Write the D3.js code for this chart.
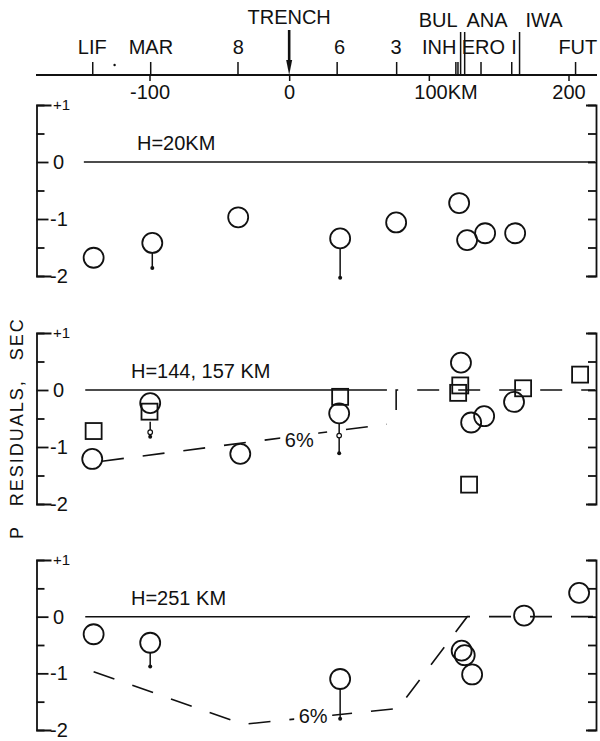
<!DOCTYPE html>
<html>
<head>
<meta charset="utf-8">
<script src="https://cdn.jsdelivr.net/npm/d3@7"></script>
<style>
  body { margin: 0; background: #fff; }
  svg { font-family: 'Liberation Sans', Arial, sans-serif; }
  .ink { stroke: #111; fill: none; }
</style>
</head>
<body>
<div id="chart"></div>
<script>
'use strict';

// distance axis (km)
const kmTicks = [-100, 0, 100, 200];
const kmTickLabels = ['-100', '0', '100KM', '200'];

// station marks on the top axis
const stationTicks = [-141, -99.5, -37, 34, 76.6, 119, 120.5, 137, 159, 204.7];
const boundaryLines = [122.4, 125.3, 164.6];
const stationNames = ['LIF', 'MAR', '8', '6', '3', 'INH', 'ERO', 'I', 'FUT'];
const stationNameKm = [-141, -99, -36.5, 36, 76.6, 107.4, 139, 161, 206.7];
const regionNames = ['BUL', 'ANA', 'IWA'];
const regionNameKm = [106.7, 141.7, 182.5];
const trenchKm = 0;

// residual ticks (sec)
const residualTicks = [-2, -1.5, -1, -0.5, 0, 0.5, 1];
const residualLabels = ['-2', '-1', '0', '+1'];
const residualLabelValues = [-2, -1, 0, 1];

// H = 20 km
const h20Circles = [[-140, -1.68], [-98, -1.42], [-36.5, -0.97], [36.5, -1.34], [76.6, -1.06],
  [121.7, -0.72], [127.4, -1.37], [140.3, -1.25], [161.8, -1.25]];
const h20Stems = [[-98, -1.42, -1.86], [36.5, -1.34, -2.03]];

// H = 144, 157 km
const h150Circles = [[-141, -1.21], [-99.5, -0.23], [-35, -1.12], [35.8, -0.41], [123, 0.48],
  [130.3, -0.57], [139.6, -0.46], [161, -0.21]];
const h150Squares = [[-140, -0.72], [-100, -0.38], [36.5, -0.12], [122.5, 0.08], [121, -0.05],
  [128.8, -1.66], [167.5, 0.03], [208.3, 0.27]];
const h150Stems = [[-99.5, -0.38, -0.82], [35.8, -0.41, -1.11]];
const h150Rings = [[-99.5, -0.74], [35.8, -0.8]];
const h150Zero = [[-146, 0], [70, 0]];
const h150SixLow = [[-134, -1.25], [70, -0.6]];
const h150SixHigh = [[76.6, -0.35], [76.6, 0], [219, 0]];
const h150SixLabel = [7.2, -0.88];

// H = 251 km
const h251Circles = [[-140, -0.31], [-99.5, -0.46], [36.5, -1.1], [123.5, -0.6], [125.7, -0.68],
  [131, -1.02], [168.2, 0.02], [207.6, 0.42]];
const h251Stems = [[-99.5, -0.46, -0.88], [36.5, -1.1, -1.8]];
const h251Zero = [[-146, 0], [127.5, 0]];
const h251Six = [[-140, -0.97], [-33, -1.9], [78, -1.62], [127.5, 0], [219, 0]];
const h251SixLabel = [17.2, -1.75];

const width = 600;
const height = 741;
const circleR = 10;
const squareSide = 16;

let svg = d3.select('#chart').append('svg')
  .attr('width', width).attr('height', height);

let x = d3.scaleLinear().domain([-100, 200]).range([149.5, 568.5]);

// ---- top distance axis ----
const axisY = 75;
svg.append('line').attr('class', 'ink').attr('stroke-width', 1.8)
  .attr('x1', 36).attr('x2', 597).attr('y1', axisY).attr('y2', axisY);

let kmAxis = d3.axisBottom(x).tickValues(kmTicks).tickSize(6)
  .tickFormat((d, i) => kmTickLabels[i]);
let kmG = svg.append('g').attr('transform', `translate(0,${axisY})`).call(kmAxis);
kmG.select('.domain').remove();
kmG.selectAll('line').attr('stroke', '#111').attr('stroke-width', 1.5);
kmG.selectAll('text').attr('font-size', 20).attr('font-family', null).attr('fill', '#111')
  .attr('y', 10).attr('dy', '0.71em');
kmG.selectAll('text').filter(d => d === 100).attr('text-anchor', 'start').attr('dx', -15);

let stationAxis = d3.axisTop(x).tickValues(stationTicks).tickSize(13).tickFormat('');
let stG = svg.append('g').attr('transform', `translate(0,${axisY})`).call(stationAxis);
stG.select('.domain').remove();
stG.selectAll('line').attr('stroke', '#111').attr('stroke-width', 1.5);

let boundAxis = d3.axisTop(x).tickValues(boundaryLines).tickSize(43).tickFormat('');
let bG = svg.append('g').attr('transform', `translate(0,${axisY})`).call(boundAxis);
bG.select('.domain').remove();
bG.selectAll('line').attr('stroke', '#111').attr('stroke-width', 1.5);

svg.append('circle').attr('cx', x(-125)).attr('cy', 65).attr('r', 1.2).attr('fill', '#111');

svg.selectAll('.station-name').data(stationNames).enter().append('text')
  .attr('x', (d, i) => x(stationNameKm[i])).attr('y', 54)
  .attr('text-anchor', 'middle').attr('font-size', 20).attr('fill', '#111')
  .text(d => d);

svg.selectAll('.region-name').data(regionNames).enter().append('text')
  .attr('x', (d, i) => x(regionNameKm[i])).attr('y', 27)
  .attr('text-anchor', 'middle').attr('font-size', 20).attr('fill', '#111')
  .text(d => d);

svg.append('text').attr('x', x(trenchKm)).attr('y', 24)
  .attr('text-anchor', 'middle').attr('font-size', 20).attr('fill', '#111').text('TRENCH');

// trench arrow
svg.append('line').attr('class', 'ink').attr('stroke-width', 2.6)
  .attr('x1', x(trenchKm)).attr('x2', x(trenchKm)).attr('y1', 30).attr('y2', 62);
svg.append('path').attr('fill', '#111')
  .attr('d', `M${x(trenchKm) - 3},60 L${x(trenchKm) + 3},60 L${x(trenchKm)},${axisY} Z`);

// ---- vertical axis title ----
svg.append('text').attr('transform', 'translate(23,539) rotate(-90)')
  .attr('font-size', 18).attr('fill', '#111')
  .attr('letter-spacing', 2).attr('word-spacing', 12)
  .text('P RESIDUALS, SEC');

// ---- panels ----
function drawPanel(opts) {
  let y = d3.scaleLinear().domain([-2, 1]).range([opts.bottom, opts.top]);
  let g = svg.append('g');
  let line = d3.line().x(d => x(d[0])).y(d => y(d[1]));

  // left bracket
  let leftAxis = d3.axisRight(y).tickValues(residualTicks).tickSizeInner(8).tickSizeOuter(15).tickFormat('');
  let lg = g.append('g').attr('transform', 'translate(36.5,0)').call(leftAxis);
  lg.selectAll('line').filter(d => d === 0 || d === -1).attr('x2', 12);
  lg.selectAll('path, line').attr('stroke', '#111').attr('stroke-width', 1.8);

  // right bracket
  let rightAxis = d3.axisLeft(y).tickValues(residualTicks).tickSizeInner(8).tickSizeOuter(10).tickFormat('');
  let rg = g.append('g').attr('transform', 'translate(596,0)').call(rightAxis);
  rg.selectAll('path, line').attr('stroke', '#111').attr('stroke-width', 1.8);

  g.selectAll('.res-label').data(residualLabels).enter().append('text')
    .attr('x', (d, i) => residualLabelValues[i] >= 0 ? 53 : 50)
    .attr('y', (d, i) => y(residualLabelValues[i]) + (residualLabelValues[i] === 1 ? 5 : 7))
    .attr('font-size', (d, i) => residualLabelValues[i] === 1 ? 15 : 20)
    .attr('fill', '#111')
    .text(d => d);

  g.append('text').attr('x', opts.labelX).attr('y', y(0) - 12)
    .attr('font-size', 20).attr('fill', '#111').text(opts.label);

  // zero reference
  g.append('path').attr('class', 'ink').attr('stroke-width', 1.5).attr('d', line(opts.zero));

  (opts.dashed || []).forEach(pts => {
    g.append('path').attr('class', 'ink').attr('stroke-width', 1.6)
      .attr('stroke-dasharray', '22,19').attr('d', line(pts));
  });

  if (opts.sixLabel) {
    let tx = x(opts.sixLabel[0]);
    let ty = y(opts.sixLabel[1]);
    g.append('rect').attr('x', tx - 19).attr('y', ty - 11).attr('width', 38).attr('height', 22)
      .attr('fill', '#fff');
    g.append('text').attr('x', tx).attr('y', ty + 7).attr('text-anchor', 'middle')
      .attr('font-size', 20).attr('fill', '#111').text('6%');
  }

  // stems
  g.selectAll('.stem').data(opts.stems).enter().append('line')
    .attr('class', 'ink').attr('stroke-width', 1.5)
    .attr('x1', d => x(d[0])).attr('x2', d => x(d[0]))
    .attr('y1', d => y(d[1]) + circleR).attr('y2', d => y(d[2]));
  g.selectAll('.stem-end').data(opts.stems).enter().append('circle')
    .attr('cx', d => x(d[0])).attr('cy', d => y(d[2])).attr('r', 2)
    .attr('fill', '#111');
  g.selectAll('.ring').data(opts.rings || []).enter().append('circle')
    .attr('cx', d => x(d[0])).attr('cy', d => y(d[1])).attr('r', 2.3)
    .attr('fill', '#fff').attr('stroke', '#111').attr('stroke-width', 1.2);

  g.selectAll('.sq').data(opts.squares || []).enter().append('rect')
    .attr('class', 'ink').attr('stroke-width', 1.8)
    .attr('x', d => x(d[0]) - squareSide / 2).attr('y', d => y(d[1]) - squareSide / 2)
    .attr('width', squareSide).attr('height', squareSide);

  g.selectAll('.pt').data(opts.circles).enter().append('circle')
    .attr('class', 'ink').attr('stroke-width', 1.8)
    .attr('cx', d => x(d[0])).attr('cy', d => y(d[1])).attr('r', circleR);
}

drawPanel({
  top: 105, bottom: 276, label: 'H=20KM', labelX: 137,
  zero: [[-147, 0], [219, 0]],
  circles: h20Circles, stems: h20Stems
});

drawPanel({
  top: 333, bottom: 504, label: 'H=144, 157 KM', labelX: 131,
  zero: h150Zero, dashed: [h150SixLow, h150SixHigh], sixLabel: h150SixLabel,
  circles: h150Circles, squares: h150Squares, stems: h150Stems, rings: h150Rings
});

drawPanel({
  top: 560, bottom: 730, label: 'H=251 KM', labelX: 131,
  zero: h251Zero, dashed: [h251Six], sixLabel: h251SixLabel,
  circles: h251Circles, stems: h251Stems
});
</script>
</body>
</html>
